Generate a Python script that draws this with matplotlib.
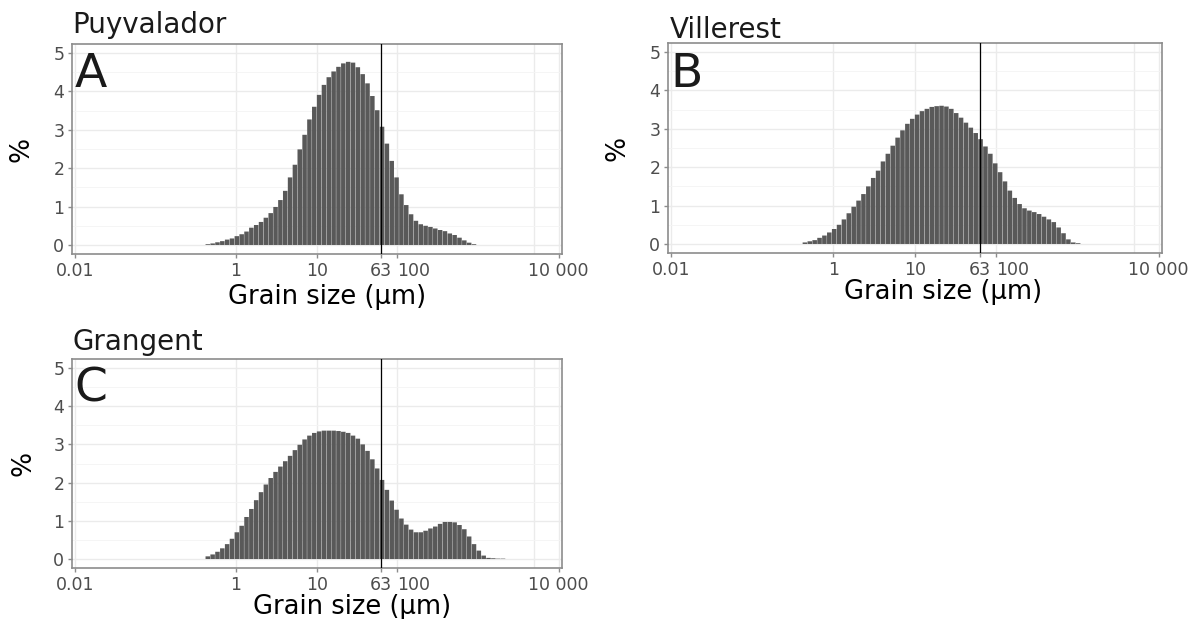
import numpy as np
import matplotlib
matplotlib.use("Agg")
import matplotlib.pyplot as plt
from matplotlib.ticker import FixedLocator, FixedFormatter, NullFormatter

# laser granulometer size classes (um): 100 classes from 0.01 to 10 000
size_edges = np.geomspace(0.01, 10000, 101)

sites = ["Puyvalador", "Villerest", "Grangent"]
letters = ["A", "B", "C"]
first_class = [27, 27, 27]

# volume percent per size class
puyvalador = [0.02, 0.04, 0.07, 0.10, 0.14, 0.17, 0.23, 0.28, 0.35, 0.45,
              0.52, 0.60, 0.71, 0.83, 0.99, 1.17, 1.41, 1.76, 2.09, 2.49,
              2.87, 3.27, 3.60, 3.91, 4.17, 4.37, 4.52, 4.64, 4.73, 4.77,
              4.75, 4.63, 4.45, 4.21, 3.88, 3.51, 3.08, 2.64, 2.19, 1.76,
              1.32, 1.04, 0.80, 0.63, 0.54, 0.50, 0.47, 0.43, 0.39, 0.36,
              0.30, 0.26, 0.19, 0.12, 0.06, 0.02]
villerest = [0.04, 0.07, 0.10, 0.16, 0.22, 0.30, 0.39, 0.50, 0.64, 0.80,
             0.97, 1.13, 1.30, 1.50, 1.72, 1.91, 2.15, 2.35, 2.56, 2.77,
             2.96, 3.13, 3.26, 3.37, 3.46, 3.52, 3.57, 3.59, 3.60, 3.58,
             3.52, 3.41, 3.29, 3.16, 3.03, 2.89, 2.73, 2.54, 2.35, 2.10,
             1.87, 1.63, 1.39, 1.20, 1.04, 0.93, 0.87, 0.83, 0.78, 0.71,
             0.64, 0.57, 0.43, 0.28, 0.12, 0.04, 0.02]
grangent = [0.07, 0.12, 0.19, 0.28, 0.39, 0.53, 0.70, 0.87, 1.10, 1.31,
            1.54, 1.75, 1.95, 2.12, 2.28, 2.42, 2.56, 2.70, 2.85, 2.99,
            3.13, 3.23, 3.30, 3.34, 3.36, 3.36, 3.36, 3.35, 3.33, 3.30,
            3.23, 3.15, 3.00, 2.83, 2.61, 2.37, 2.07, 1.81, 1.53, 1.29,
            1.06, 0.90, 0.77, 0.70, 0.70, 0.74, 0.80, 0.85, 0.92, 0.97,
            0.97, 0.96, 0.89, 0.78, 0.59, 0.39, 0.22, 0.09, 0.03, 0.02,
            0.01, 0.01]
series = [puyvalador, villerest, grangent]

x_breaks = [0.01, 1, 10, 63, 100, 10000]
x_labels = ["0.01", "1", "10", "63", "100", "10 000"]
x_extra_grid = [5000]
y_breaks = [0, 1, 2, 3, 4, 5]
y_minor = [0.5, 1.5, 2.5, 3.5, 4.5]
sand_limit = 63

W, H = 1189, 619
fig = plt.figure(figsize=(W / 100, H / 100), dpi=100)


def box(l, t, r, b):
    return [l / W, 1 - b / H, (r - l) / W, (b - t) / H]


panel_boxes = [box(72, 44, 562, 254), box(668, 43, 1162, 253), box(72, 359, 562, 568)]
title_pos = [(72, 33), (670, 38), (73, 350)]
letter_pos = [(75, 87), (670, 87), (74, 401)]
xlab_pos = [(327, 304), (943, 299), (352, 614)]
ylab_pos = [(22, 149), (617, 148), (23, 463)]

bar_col = "#595959"
frame_col = "#8C8C8C"
grid_col = "#EBEBEB"

for i in range(3):
    ax = fig.add_axes(panel_boxes[i])
    vals = series[i]
    k = first_class[i]
    n = len(vals)
    lo = size_edges[k:k + n]
    hi = size_edges[k + 1:k + n + 1]
    # leave a hairline between neighbouring classes
    lo2 = lo * 10 ** 0.002
    hi2 = hi / 10 ** 0.002
    bars = ax.bar(lo2, vals, width=hi2 - lo2, align="edge", color=bar_col,
                  linewidth=0, zorder=2)
    for b in bars:
        b.set_snap(False)
    ax.axvline(sand_limit, color="black", lw=0.9, zorder=3)

    ax.set_xscale("log")
    ax.set_xlim(10 ** -2.0335, 10 ** 4.041)
    ax.set_ylim(-0.235, 5.235)

    ax.xaxis.set_major_locator(FixedLocator(x_breaks))
    ax.xaxis.set_major_formatter(FixedFormatter(x_labels))
    ax.xaxis.set_minor_locator(FixedLocator(x_extra_grid))
    ax.xaxis.set_minor_formatter(NullFormatter())
    ax.yaxis.set_major_locator(FixedLocator(y_breaks))
    ax.yaxis.set_minor_locator(FixedLocator(y_minor))

    ax.set_axisbelow(True)
    ax.xaxis.grid(True, which="major", color=grid_col, lw=1.0)
    ax.xaxis.grid(True, which="minor", color=grid_col, lw=1.0)
    ax.yaxis.grid(True, which="major", color=grid_col, lw=1.0)
    ax.yaxis.grid(True, which="minor", color="#F4F4F4", lw=0.6)

    for s in ax.spines.values():
        s.set_color(frame_col)
        s.set_linewidth(1.2)
    ax.tick_params(which="major", length=3, width=1, color=frame_col,
                   labelsize=12.5, labelcolor="#4D4D4D", pad=2.5)
    ax.tick_params(which="minor", length=0)
    ax.xaxis.get_major_ticks()[4].label1.set_horizontalalignment("left")

    tx, ty = title_pos[i]
    fig.text(tx / W, 1 - ty / H, sites[i], fontsize=20, ha="left", va="baseline", color="#1A1A1A")
    lx, ly = letter_pos[i]
    fig.text(lx / W, 1 - ly / H, letters[i], fontsize=34, ha="left", va="baseline", color="#1A1A1A")
    xx, xy = xlab_pos[i]
    fig.text(xx / W, 1 - xy / H, "Grain size (µm)", fontsize=18.5, ha="center", va="baseline")
    yx, yy = ylab_pos[i]
    fig.text(yx / W, 1 - yy / H, "%", fontsize=19, rotation=90, ha="center", va="center")

fig.savefig("out.png", dpi=100)
